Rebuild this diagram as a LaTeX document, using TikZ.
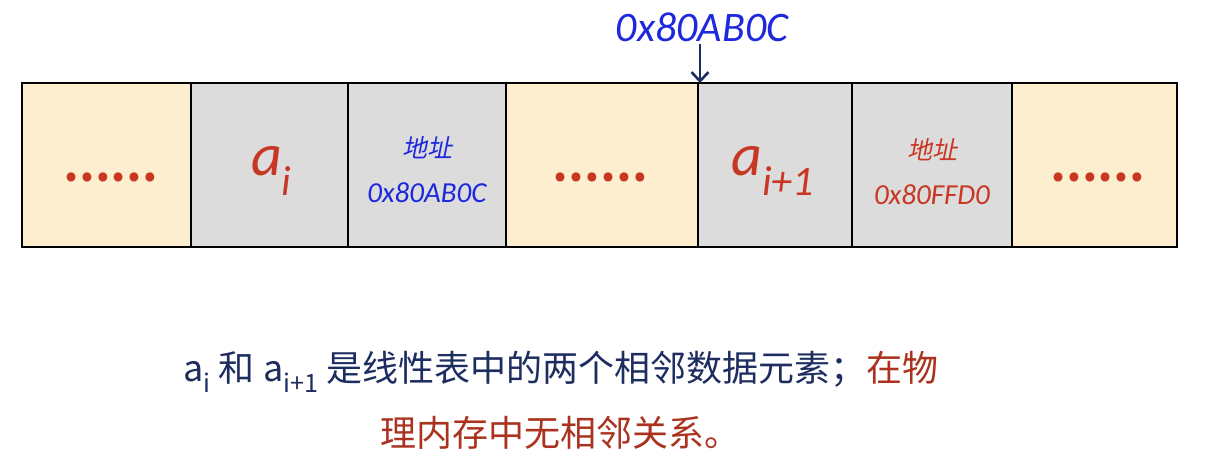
\documentclass[tikz,border=0pt]{standalone}
\usepackage{fontspec}
\setmainfont{Carlito}
\newfontfamily\cjk{Noto Sans CJK SC}
\newfontfamily\cjkit[FakeSlant=0.2]{Noto Sans CJK SC}
\usepackage{tikz}
\usetikzlibrary{arrows.meta,positioning,calc}
\definecolor{cellcream}{RGB}{252,238,206}
\definecolor{cellgray}{RGB}{220,220,220}
\definecolor{elemred}{RGB}{200,55,35}
\definecolor{addrblue}{RGB}{30,40,220}
\definecolor{notenavy}{RGB}{30,45,95}
\definecolor{notered}{RGB}{170,50,30}
\tikzset{
  memcell/.style={rectangle,draw=black,line width=2.4pt,minimum height=164pt,
    inner sep=0pt,outer sep=0pt,anchor=center},
  creamcell/.style={memcell,fill=cellcream},
  graycell/.style={memcell,fill=cellgray},
  dotstext/.style={inner sep=0pt,text=elemred,font=\cjk\bfseries\fontsize{42}{42}\selectfont},
  elemtext/.style={inner sep=0pt,text=elemred,font=\itshape\fontsize{60}{64}\selectfont},
  addrtext/.style={inner sep=0pt,font=\itshape\fontsize{29}{32}\selectfont},
  addrword/.style={inner sep=0pt,font=\cjkit\fontsize{25}{28}\selectfont},
  ptrarrow/.style={-{Straight Barb[length=9pt,width=17pt,line width=2.6pt]},
    draw=notenavy,line width=2.6pt},
  notetext/.style={inner sep=0pt,font=\cjk\fontsize{36}{40}\selectfont}
}
\begin{document}
\begin{tikzpicture}[x=1pt,y=1pt]
  \useasboundingbox (0,0) rectangle (1212,458);

  % --------------------------------------------------------------
  % The memory row.
  % --------------------------------------------------------------
  \node[creamcell,minimum width=169pt] (cellL)  at (106.5,293) {};
  \node[graycell, minimum width=157pt] (cellAi) at (269.5,293) {};
  \node[graycell, minimum width=158pt] (cellAA) at (427,293)   {};
  \node[creamcell,minimum width=192pt] (cellM)  at (602,293)   {};
  \node[graycell, minimum width=154pt] (cellAj) at (775,293)   {};
  \node[graycell, minimum width=160pt] (cellAB) at (932,293)   {};
  \node[creamcell,minimum width=165pt] (cellR)  at (1094.5,293) {};

  % --------------------------------------------------------------
  % Contents of the cells.
  % --------------------------------------------------------------
  \node[dotstext] (dotsL) at ([xshift=4pt,yshift=-12pt]cellL.center) {……};
  \node[dotstext] (dotsM) at ([xshift=-2pt,yshift=-12pt]cellM.center) {……};
  \node[dotstext] (dotsR) at ([xshift=3pt,yshift=-12pt]cellR.center) {……};

  \node[elemtext] (elemAi) at ([xshift=2pt,yshift=-6pt]cellAi.center)
    {a\textsubscript{i}};
  \node[elemtext] (elemAj) at ([xshift=-2pt,yshift=-6pt]cellAj.center)
    {a\textsubscript{i+1}};

  \node[addrword,text=addrblue] (wordA) at ([yshift=17pt]cellAA.center) {地址};
  \node[addrtext,text=addrblue] (hexA)  at ([yshift=-28pt]cellAA.center) {0x80AB0C};
  \node[addrword,text=elemred]  (wordB) at ([yshift=15pt]cellAB.center) {地址};
  \node[addrtext,text=elemred]  (hexB)  at ([yshift=-30pt]cellAB.center) {0x80FFD0};

  % --------------------------------------------------------------
  % Pointer to the start of a_{i+1}.
  % --------------------------------------------------------------
  \node[inner sep=0pt,text=addrblue,font=\itshape\fontsize{42}{46}\selectfont]
    (ptrlabel) at (702,431) {0x80AB0C};
  \coordinate (ptrtop) at ([xshift=-2pt,yshift=-2pt]ptrlabel.south);
  \draw[ptrarrow] (ptrtop) -- (ptrtop |- cellAj.north);

  % --------------------------------------------------------------
  % Caption.
  % --------------------------------------------------------------
  \node[notetext,text=notenavy] (note1) at (561,86)
    {a\textsubscript{i} 和 a\textsubscript{i+1} 是线性表中的两个相邻数据元素；\textcolor{notered}{在物}};
  \node[notetext,text=notered] (note2) at (560,25) {理内存中无相邻关系。};

\end{tikzpicture}
\end{document}
